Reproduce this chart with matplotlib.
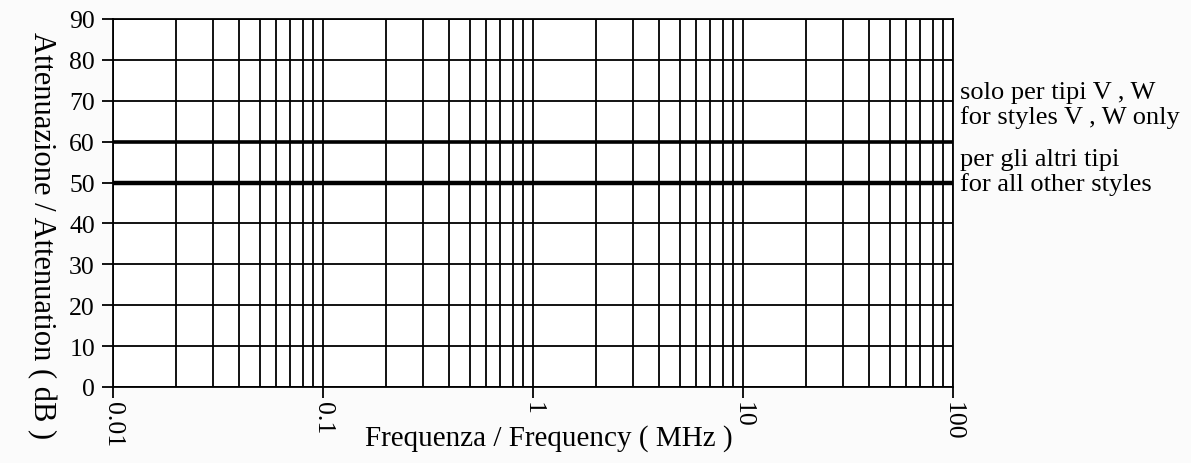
import matplotlib
matplotlib.use("Agg")
import matplotlib.pyplot as plt
from matplotlib.ticker import FixedLocator, NullFormatter, LogLocator

plt.rcParams['font.family'] = ['Liberation Serif', 'DejaVu Serif']

freq = [0.01, 100]
limit_vw = [60, 60]
limit_other = [50, 50]
x_ticks = [0.01, 0.1, 1, 10, 100]
x_ticklabels = ['0.01', '0.1', '1', '10', '100']
y_ticks = [0, 10, 20, 30, 40, 50, 60, 70, 80, 90]

fig = plt.figure(figsize=(11.91, 4.64), dpi=100, facecolor='#fbfbfb')
ax = fig.add_axes([113/1191, 1-388/464, (953-113)/1191, (388-20)/464])
ax.set_facecolor('white')
ax.set_xscale('log')
ax.set_xlim(0.01, 100)
ax.set_ylim(0, 90)

ax.plot(freq, limit_vw, color='black', lw=2.6, solid_capstyle='butt', zorder=3)
ax.plot(freq, limit_other, color='black', lw=3.2, solid_capstyle='butt', zorder=3)

ax.xaxis.set_major_locator(FixedLocator(x_ticks))
ax.xaxis.set_minor_locator(LogLocator(base=10, subs=range(2, 10), numticks=20))
ax.xaxis.set_minor_formatter(NullFormatter())
ax.set_xticklabels(x_ticklabels, rotation=-90, fontsize=18.5)
ax.set_yticks(y_ticks)
ax.set_yticklabels([str(v) for v in y_ticks], fontsize=18.5)

ax.grid(True, which='major', color='black', lw=1.3)
ax.grid(True, which='minor', axis='x', color='black', lw=1.3)
ax.tick_params(axis='both', which='major', direction='out', length=8, width=1.3, pad=5)
ax.tick_params(axis='x', which='major', pad=2)
ax.tick_params(axis='x', which='minor', length=0)
for s in ax.spines.values():
    s.set_linewidth(1.3)

ax.set_xlabel('Frequenza / Frequency ( MHz )', fontsize=21)
ax.xaxis.set_label_coords(0.519, -0.10)
ax.set_ylabel('Attenuazione / Attenuation ( dB )', fontsize=22, rotation=-90)
ax.yaxis.set_label_coords(-0.103, 0.415)

fig.text(960/1191, 1-93/464, 'solo per tipi V , W', fontsize=19, va='center', ha='left')
fig.text(960/1191, 1-118/464, 'for styles V , W only', fontsize=19, va='center', ha='left')
fig.text(960/1191, 1-160/464, 'per gli altri tipi', fontsize=19, va='center', ha='left')
fig.text(960/1191, 1-185/464, 'for all other styles', fontsize=19, va='center', ha='left')

fig.savefig('out.png', dpi=100, facecolor=fig.get_facecolor())
